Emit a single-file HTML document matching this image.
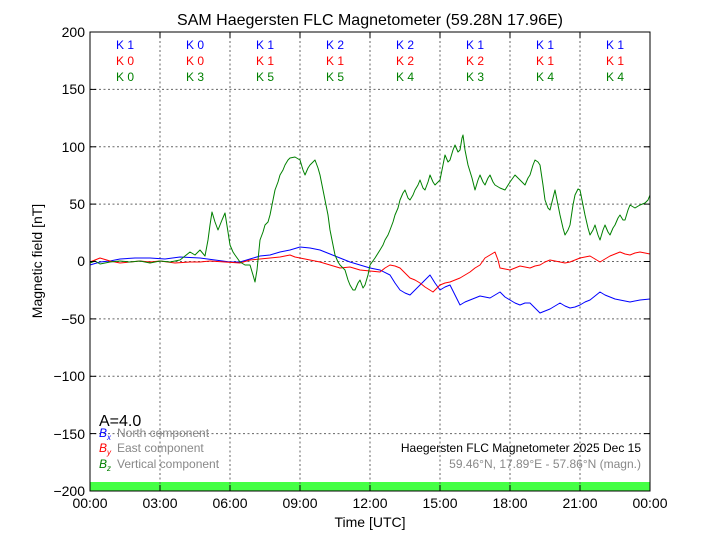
<!DOCTYPE html>
<html><head><meta charset="utf-8"><style>body{margin:0;background:#fff}svg{display:block}text{font-family:"Liberation Sans",sans-serif}</style></head><body>
<svg width="720" height="540" viewBox="0 0 720 540" xmlns="http://www.w3.org/2000/svg">
<rect x="0" y="0" width="720" height="540" fill="#fff"/>
<rect x="90" y="482" width="560" height="9" fill="#44ff44"/>
<g stroke="#666" stroke-width="1" stroke-dasharray="2,2.5">
<line x1="160" y1="32" x2="160" y2="491"/><line x1="230" y1="32" x2="230" y2="491"/><line x1="300" y1="32" x2="300" y2="491"/><line x1="370" y1="32" x2="370" y2="491"/><line x1="440" y1="32" x2="440" y2="491"/><line x1="510" y1="32" x2="510" y2="491"/><line x1="580" y1="32" x2="580" y2="491"/>
<line x1="90" y1="89.4" x2="650" y2="89.4"/><line x1="90" y1="146.8" x2="650" y2="146.8"/><line x1="90" y1="204.1" x2="650" y2="204.1"/><line x1="90" y1="261.5" x2="650" y2="261.5"/><line x1="90" y1="318.9" x2="650" y2="318.9"/><line x1="90" y1="376.3" x2="650" y2="376.3"/><line x1="90" y1="433.6" x2="650" y2="433.6"/>
</g>
<g font-size="12" text-anchor="middle">
<g fill="#0000ff"><text x="125" y="49">K 1</text><text x="195" y="49">K 0</text><text x="265" y="49">K 1</text><text x="335" y="49">K 2</text><text x="405" y="49">K 2</text><text x="475" y="49">K 1</text><text x="545" y="49">K 1</text><text x="615" y="49">K 1</text></g>
<g fill="#ff0000"><text x="125" y="65">K 0</text><text x="195" y="65">K 0</text><text x="265" y="65">K 1</text><text x="335" y="65">K 1</text><text x="405" y="65">K 2</text><text x="475" y="65">K 2</text><text x="545" y="65">K 1</text><text x="615" y="65">K 1</text></g>
<g fill="#008000"><text x="125" y="81">K 0</text><text x="195" y="81">K 3</text><text x="265" y="81">K 5</text><text x="335" y="81">K 5</text><text x="405" y="81">K 4</text><text x="475" y="81">K 3</text><text x="545" y="81">K 4</text><text x="615" y="81">K 4</text></g>
</g>
<g fill="none" stroke-width="1" stroke-linejoin="round">
<polyline stroke="#0000ff" points="90,265 100,262 110,261 120,259 135,258 150,258 165,259 180,257 200,258 215,260 230,262 240,262 250,259 260,256 270,255 280,252 290,250 300,247 310,248 320,250 330,254 340,258 350,262 360,265 370,268 380,270 390,275 395,283 400,290 405,293 410,295 415,290 420,285 425,280 430,275 435,283 440,290 445,287 450,285 455,295 460,305 465,302 470,300 475,298 480,296 485,297 490,298 495,295 500,292 505,297 510,300 515,303 520,305 525,303 530,303 535,308 540,313 545,311 550,309 555,306 560,303 565,306 570,308 575,307 580,305 585,302 590,300 595,296 600,292 605,295 610,297 615,299 620,300 625,301 630,302 640,300 650,299"/>
<polyline stroke="#ff0000" points="90,262 95,260 100,258 110,261 120,263 130,262 140,261 150,262 160,261 175,263 190,262 200,262 210,261 225,262 240,263 250,260 260,259 270,258 280,257 290,255 295,257 300,258 310,260 320,262 330,265 340,268 350,267 360,270 370,271 380,272 385,268 390,265 395,266 400,268 405,273 410,278 415,280 420,283 425,287 433,292 437,288 440,285 445,283 450,282 455,280 460,278 465,275 470,272 475,268 480,265 485,258 490,255 495,252 498,260 500,268 505,269 510,270 515,268 520,266 525,267 530,268 535,266 540,265 545,262 550,260 555,261 560,262 565,263 570,262 575,260 580,258 585,257 590,256 595,259 600,262 605,259 610,256 615,254 620,252 625,254 630,255 635,253 640,252 645,253 650,254"/>
<polyline stroke="#008000" points="90,263 95,261 100,264 110,262 120,261 130,262 140,261 150,263 160,261 170,262 180,260 185,256 190,252 195,255 200,250 205,256 208,240 210,225 212,212 215,222 218,230 222,220 225,213 228,232 230,245 233,252 235,255 240,262 245,265 250,265 253,275 255,282 257,270 260,240 263,232 265,225 268,222 270,215 273,200 275,190 278,182 280,175 283,170 285,165 288,160 290,158 295,157 300,160 303,170 305,175 308,168 310,165 313,162 315,160 318,168 320,175 323,190 325,200 328,215 330,230 333,245 335,255 338,262 340,265 343,268 345,270 348,280 350,285 353,290 355,290 358,283 360,280 363,288 365,285 368,275 370,265 375,258 380,250 383,245 385,240 388,235 390,230 393,222 395,215 398,208 400,200 403,193 405,190 408,198 410,200 413,195 415,190 418,185 420,180 423,188 425,190 428,182 430,175 433,182 435,185 438,182 440,180 443,165 445,155 448,162 450,160 453,150 455,145 458,152 460,150 462,138 463,135 465,150 468,165 472,178 475,190 478,180 480,175 483,182 485,185 488,178 490,175 493,182 495,185 500,188 505,190 510,182 515,175 520,180 525,185 528,178 530,175 533,165 535,160 538,162 540,165 543,185 545,200 548,208 550,210 553,198 555,190 558,205 560,215 563,228 565,235 568,230 570,225 573,205 575,195 578,189 580,190 583,205 585,215 588,228 590,235 593,230 595,225 598,235 600,240 603,230 605,225 608,232 610,235 613,228 615,225 618,218 620,215 623,220 625,220 628,210 630,205 635,208 640,205 645,203 648,200 650,195"/>
</g>
<rect x="90" y="32" width="560" height="459" fill="none" stroke="#000" stroke-width="1"/>
<g stroke="#000">
<line x1="160" y1="491" x2="160" y2="485"/><line x1="230" y1="491" x2="230" y2="485"/><line x1="300" y1="491" x2="300" y2="485"/><line x1="370" y1="491" x2="370" y2="485"/><line x1="440" y1="491" x2="440" y2="485"/><line x1="510" y1="491" x2="510" y2="485"/><line x1="580" y1="491" x2="580" y2="485"/>
<line x1="160" y1="32" x2="160" y2="38"/><line x1="230" y1="32" x2="230" y2="38"/><line x1="300" y1="32" x2="300" y2="38"/><line x1="370" y1="32" x2="370" y2="38"/><line x1="440" y1="32" x2="440" y2="38"/><line x1="510" y1="32" x2="510" y2="38"/><line x1="580" y1="32" x2="580" y2="38"/>
<line x1="90" y1="89.4" x2="96" y2="89.4"/><line x1="90" y1="146.8" x2="96" y2="146.8"/><line x1="90" y1="204.1" x2="96" y2="204.1"/><line x1="90" y1="261.5" x2="96" y2="261.5"/><line x1="90" y1="318.9" x2="96" y2="318.9"/><line x1="90" y1="376.3" x2="96" y2="376.3"/><line x1="90" y1="433.6" x2="96" y2="433.6"/>
<line x1="644" y1="89.4" x2="650" y2="89.4"/><line x1="644" y1="146.8" x2="650" y2="146.8"/><line x1="644" y1="204.1" x2="650" y2="204.1"/><line x1="644" y1="261.5" x2="650" y2="261.5"/><line x1="644" y1="318.9" x2="650" y2="318.9"/><line x1="644" y1="376.3" x2="650" y2="376.3"/><line x1="644" y1="433.6" x2="650" y2="433.6"/>
</g>
<g font-size="14" text-anchor="end">
<text x="85" y="37">200</text><text x="85" y="94">150</text><text x="85" y="152">100</text><text x="85" y="209">50</text><text x="85" y="266">0</text><text x="85" y="324">−50</text><text x="85" y="381">−100</text><text x="85" y="439">−150</text><text x="85" y="496">−200</text>
</g>
<g font-size="14" text-anchor="middle">
<text x="90" y="508">00:00</text><text x="160" y="508">03:00</text><text x="230" y="508">06:00</text><text x="300" y="508">09:00</text><text x="370" y="508">12:00</text><text x="440" y="508">15:00</text><text x="510" y="508">18:00</text><text x="580" y="508">21:00</text><text x="650" y="508">00:00</text>
</g>
<text x="370" y="527" font-size="14" text-anchor="middle">Time [UTC]</text>
<text x="42" y="261" font-size="14" text-anchor="middle" transform="rotate(-90 42 261)">Magnetic field [nT]</text>
<text x="370" y="25" font-size="16" text-anchor="middle">SAM Haegersten FLC Magnetometer (59.28N 17.96E)</text>
<text x="99" y="426" font-size="16">A=4.0</text>
<g font-size="12">
<text x="99" y="437" fill="#0000ff" font-family="Liberation Serif" font-style="italic">B<tspan font-size="8" dy="3">x</tspan></text>
<text x="117" y="437" fill="#888">North component</text>
<text x="99" y="452" fill="#ff0000" font-family="Liberation Serif" font-style="italic">B<tspan font-size="8" dy="3">y</tspan></text>
<text x="117" y="452" fill="#888">East component</text>
<text x="99" y="468" fill="#008000" font-family="Liberation Serif" font-style="italic">B<tspan font-size="8" dy="3">z</tspan></text>
<text x="117" y="468" fill="#888">Vertical component</text>
<text x="641" y="452" text-anchor="end" fill="#000">Haegersten FLC Magnetometer 2025 Dec 15</text>
<text x="641" y="468" text-anchor="end" fill="#888">59.46°N, 17.89°E - 57.86°N (magn.)</text>
</g>
</svg>
</body></html>
